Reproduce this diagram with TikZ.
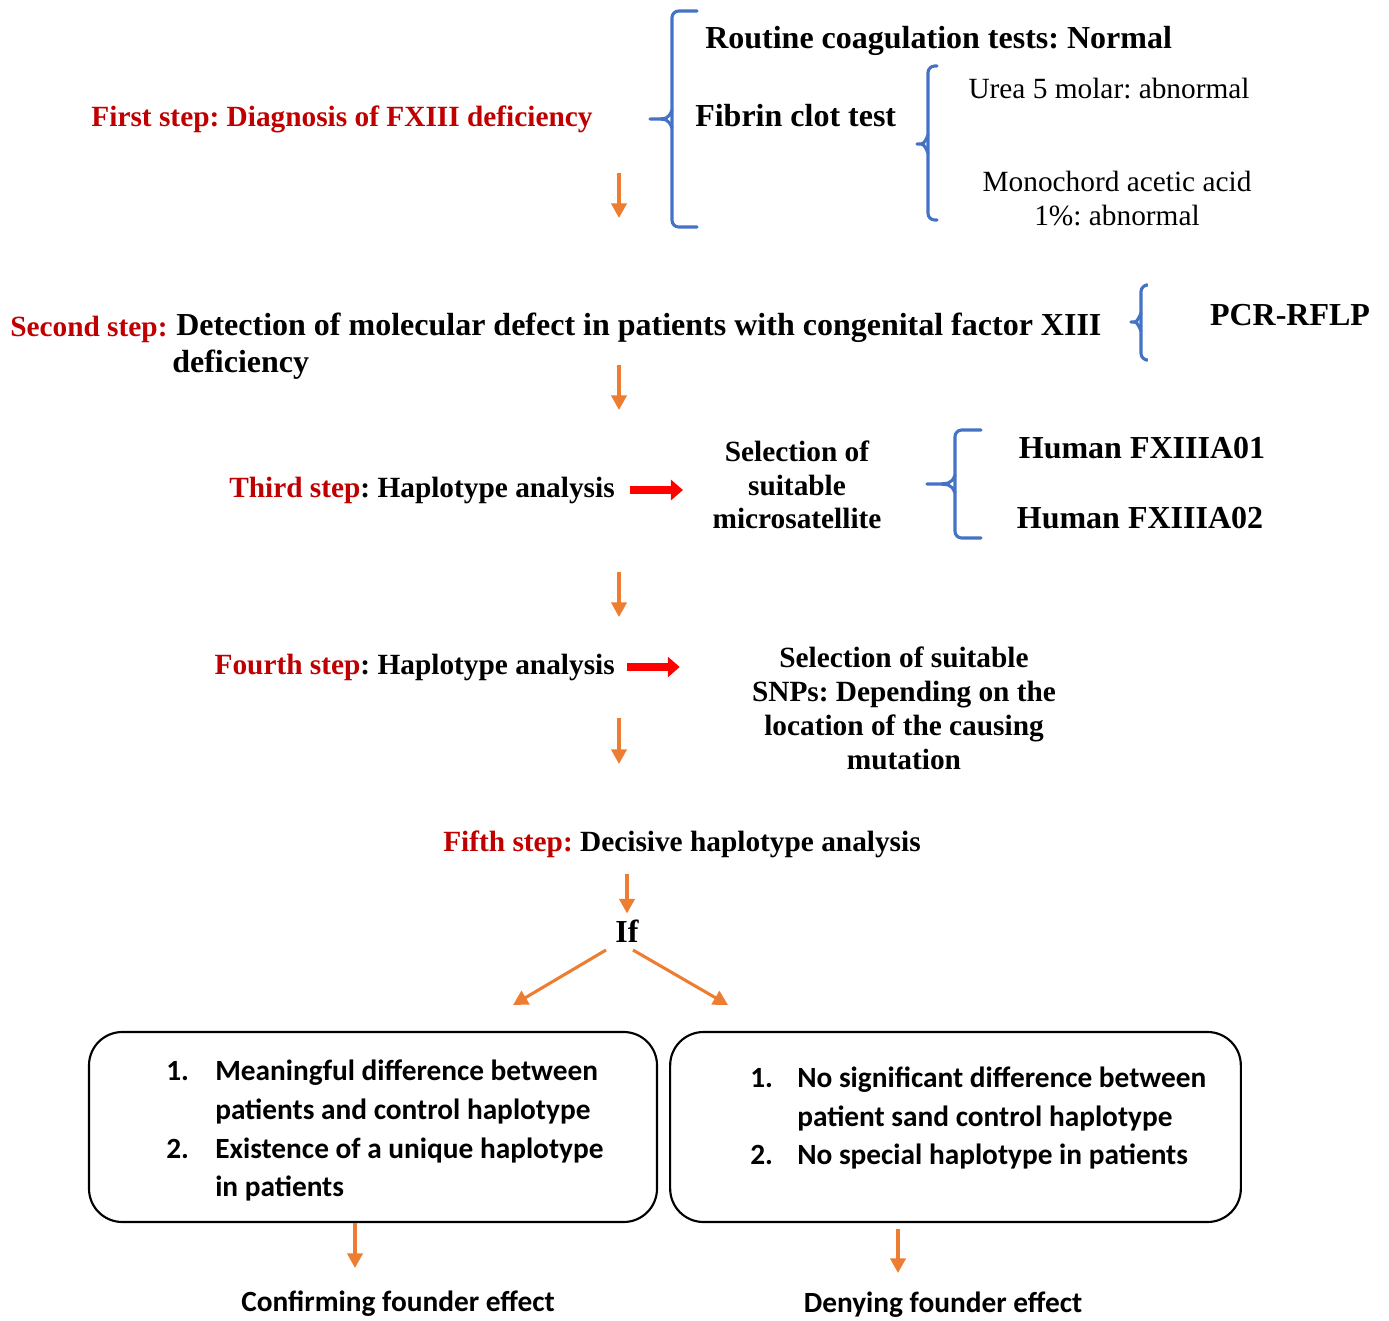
\documentclass[tikz,border=0pt]{standalone}
\usepackage{fontspec}
\setmainfont{Liberation Serif}
\newfontfamily\calfont{Carlito}
\usetikzlibrary{arrows.meta}
\definecolor{stepred}{RGB}{192,0,0}
\definecolor{arrorange}{RGB}{237,125,49}
\definecolor{braceblue}{RGB}{68,114,196}
\frenchspacing
% tip x, stem x, end x, top y, tip y, bottom y
\newcommand\bluebrace[6]{\draw[brc,rounded corners=5pt] (#3,#4) -- (#2,#4) -- (#2,#6) -- (#3,#6);
\draw[brc] (#1,#5) .. controls (#2-4,#5) .. (#2,#5-9) (#1,#5) .. controls (#2-4,#5) .. (#2,#5+9);}
\begin{document}
\begin{tikzpicture}[x=.75pt,y=-.75pt,
 txt/.style={inner sep=0pt,font=\fontsize{22}{25.2}\selectfont\bfseries},
 big/.style={inner sep=0pt,font=\fontsize{24}{27.75}\selectfont\bfseries},
 plain/.style={inner sep=0pt,font=\fontsize{22}{25.5}\selectfont},
 cal/.style={inner sep=0pt,font=\calfont\fontsize{22}{29}\selectfont\bfseries},
 box/.style={draw,line width=1.6pt,rounded corners=25pt,minimum height=142.5pt},
 down/.style={draw=arrorange,line width=2.3pt,-{Triangle[length=11pt,width=11.5pt]}},
 fat/.style={draw=red,line width=6pt,-{Triangle[length=9pt,width=15pt]}},
 brc/.style={draw=braceblue,line width=2.3pt,line cap=round}]
\useasboundingbox (0,0) rectangle (1389,1321);
% first step
\node[txt,text=stepred] (s1) at (342,119) {First step: Diagnosis of FXIII deficiency};
\node[big,anchor=west] (rout) at (705,41) {Routine coagulation tests: Normal};
\node[big,anchor=west] (fib) at (695,116) {Fibrin clot test};
\node[plain] (urea) at (1109,89) {Urea 5 molar: abnormal};
\node[plain,align=center] (mono) at (1117,199) {Monochord acetic acid\\1\%: abnormal};
\bluebrace{650}{672}{697}{11}{119}{227}
\bluebrace{917}{928}{937}{66}{144}{220}
% second step
\node[txt,anchor=west,text=stepred] (s2) at (10,329) {Second step:};
\node[big,anchor=north west,align=left] (s2b) at (172,313) {\hspace*{3pt}Detection of molecular defect in patients with congenital factor XIII\\deficiency};
\bluebrace{1131}{1141}{1146}{285}{322}{360}
\node[big] (pcr) at (1290,315) {PCR-RFLP};
% third step
\node[txt,anchor=east] (s3) at (615,490) {\textcolor{stepred}{Third step}: Haplotype analysis};
\node[txt,align=center] (sel3) at (797,485) {Selection of\\suitable\\microsatellite};
\draw[fat,shorten <=11pt,shorten >=22pt] (s3.east) -- (s3.east -| sel3.west);
\bluebrace{927}{955}{981}{430}{484}{538}
\node[big] (h1) at (1142,448) {Human FXIIIA01};
\node[big] (h2) at (1140,518) {Human FXIIIA02};
% fourth step
\node[txt,anchor=east] (s4) at (615,667) {\textcolor{stepred}{Fourth step}: Haplotype analysis};
\node[txt,align=center,font=\fontsize{22}{25.5}\selectfont\bfseries] (sel4) at (904,708) {Selection of suitable\\SNPs: Depending on the\\location of the causing\\mutation};
\draw[fat,shorten <=9pt,shorten >=54pt] (s4.east) -- (s4.east -| sel4.west);
\foreach \i/\a/\b in {1/173/218, 2/365/410, 3/572/617, 4/718/764}{
 \coordinate (a\i) at (619,\a); \coordinate (b\i) at (619,\b);
 \draw[down] (a\i) -- (b\i);}
% fifth step
\node[txt] (s5) at (682,844) {\textcolor{stepred}{Fifth step:} Decisive haplotype analysis};
\node[big] (iff) at (627,931) {If};
\draw[down,shorten <=12pt,shorten >=4.5pt] (s5.south -| iff.north) -- (iff.north);
\coordinate (la) at (513,1005); \coordinate (ra) at (728,1005);
\draw[down] ([shift={(-21,19)}]iff.center) -- (la);
\draw[down] ([shift={(6,19)}]iff.center) -- (ra);
% outcome boxes
\node[box,minimum width=426pt] (b1) at (373,1127) {};
\node[box,minimum width=428pt] (b2) at (955.5,1127) {};
\node[cal,anchor=west] (l1) at (166,1131) {\begin{tabular}{@{}p{36.75pt}@{}l@{}}1.&Meaningful difference between\\&patients and control haplotype\\2.&Existence of a unique haplotype\\&in patients\end{tabular}};
\node[cal,anchor=west] (l2) at (750,1118.5) {\begin{tabular}{@{}p{35.25pt}@{}l@{}}1.&No significant difference between\\&patient sand control haplotype\\2.&No special haplotype in patients\end{tabular}};
\coordinate (c1) at (355,1268); \coordinate (c2) at (898,1273);
\draw[down] (b1.south -| c1) -- (c1);
\draw[down] ([yshift=-4.5pt]b2.south -| c2) -- (c2);
\node[cal] (conf) at (398,1304) {Confirming founder effect};
\node[cal] (deny) at (943,1305) {Denying founder effect};
\end{tikzpicture}
\end{document}
